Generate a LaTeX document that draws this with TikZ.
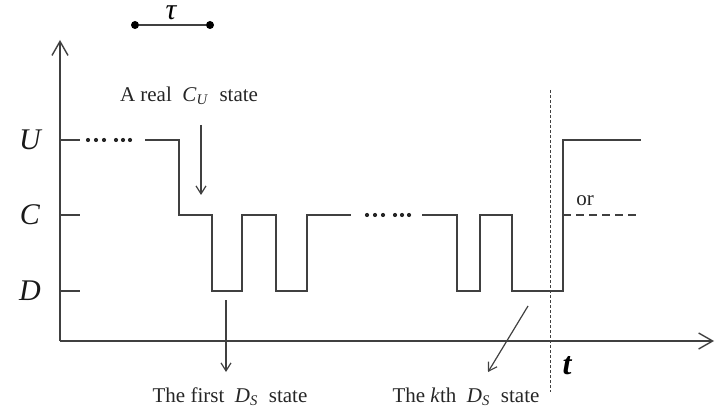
\documentclass[tikz,border=0pt]{standalone}
\usepackage{fontspec}
\setmainfont{Liberation Serif}
\usetikzlibrary{arrows.meta}
\tikzset{
  sig/.style={draw=black!75, line width=0.7pt},
  axis/.style={draw=black!75, line width=0.7pt, -{Straight Barb[length=7pt, width=8pt]}},
  pointer/.style={draw=black!75, line width=0.6pt, -{Straight Barb[length=4pt, width=5pt]}},
  lbl/.style={font=\fontsize{10.5}{12}\selectfont, text=black!85},
  lvl/.style={font=\fontsize{15}{18}\selectfont\itshape, text=black!90},
  dot/.style={circle, fill=black, inner sep=0pt, minimum size=4pt},
}
\newcommand{\stname}[2]{\textit{#1}\textsubscript{\textit{#2}}}
\begin{document}
\begin{tikzpicture}[x=0.5pt, y=-0.5pt]
\useasboundingbox (0,0) rectangle (715,416);
% axes
\coordinate (O) at (60,341);
\coordinate (ytop) at (60,40);
\coordinate (xend) at (714,341);
\draw[axis] (O) -- (ytop);
\draw[axis] (O) -- (xend);
% levels
\foreach \y/\name in {140/U,215/C,291/D} {
  \draw[sig] (60,\y) -- (80,\y);
  \node[lvl] (lvl\name) at (30,\y) {\name};
}
% dots
\foreach \x in {88,96,104,116,123,130} {
  \fill[black!85] (\x,140) circle (1.05pt);
  \fill[black!85] (\x+279,215) circle (1.05pt);
}
% signal
\draw[sig] (145,140) -- (179,140) -- (179,215) -- (212,215) -- (212,291) -- (242,291)
  -- (242,215) -- (276,215) -- (276,291) -- (307,291) -- (307,215) -- (351,215);
\draw[sig] (422,215) -- (457,215) -- (457,291) -- (480,291) -- (480,215) -- (512,215)
  -- (512,291) -- (563,291) -- (563,140) -- (641,140);
\draw[sig, dash pattern=on 4pt off 2.5pt] (563,215) -- (638,215);
\node[lbl] (orlbl) at (585,201) {or};
% time t
\draw[black!75, line width=0.5pt, dash pattern=on 1.5pt off 1pt] (550,90) -- (550,392);
\node[font=\fontsize{16}{18}\selectfont\bfseries\itshape] (tlbl) at (567,366) {t};
% tau
\node[dot] (tau1) at (135,25) {};
\node[dot] (tau2) at (210,25) {};
\draw[sig] (tau1) -- (tau2);
\node[font=\fontsize{15}{18}\selectfont\itshape, inner sep=0pt, anchor=base] (taulbl) at (171,20) {τ};
% pointers
\node[lbl] (realCU) at (189,96) {A real\ \ \stname{C}{U}\ \ state};
\coordinate (cuTail) at (201,125);
\coordinate (cuTip) at (201,195);
\draw[pointer] (cuTail) -- (cuTip);
\node[lbl] (firstDS) at (230,397) {The first\ \ \stname{D}{S}\ \ state};
\coordinate (fdTail) at (226,300);
\coordinate (fdTip) at (226,372);
\draw[pointer] (fdTail) -- (fdTip);
\node[lbl] (kthDS) at (466,397) {The \textit{k}th\ \ \stname{D}{S}\ \ state};
\coordinate (kdTail) at (528,306);
\coordinate (kdTip) at (488,372);
\draw[pointer] (kdTail) -- (kdTip);
\end{tikzpicture}
\end{document}
